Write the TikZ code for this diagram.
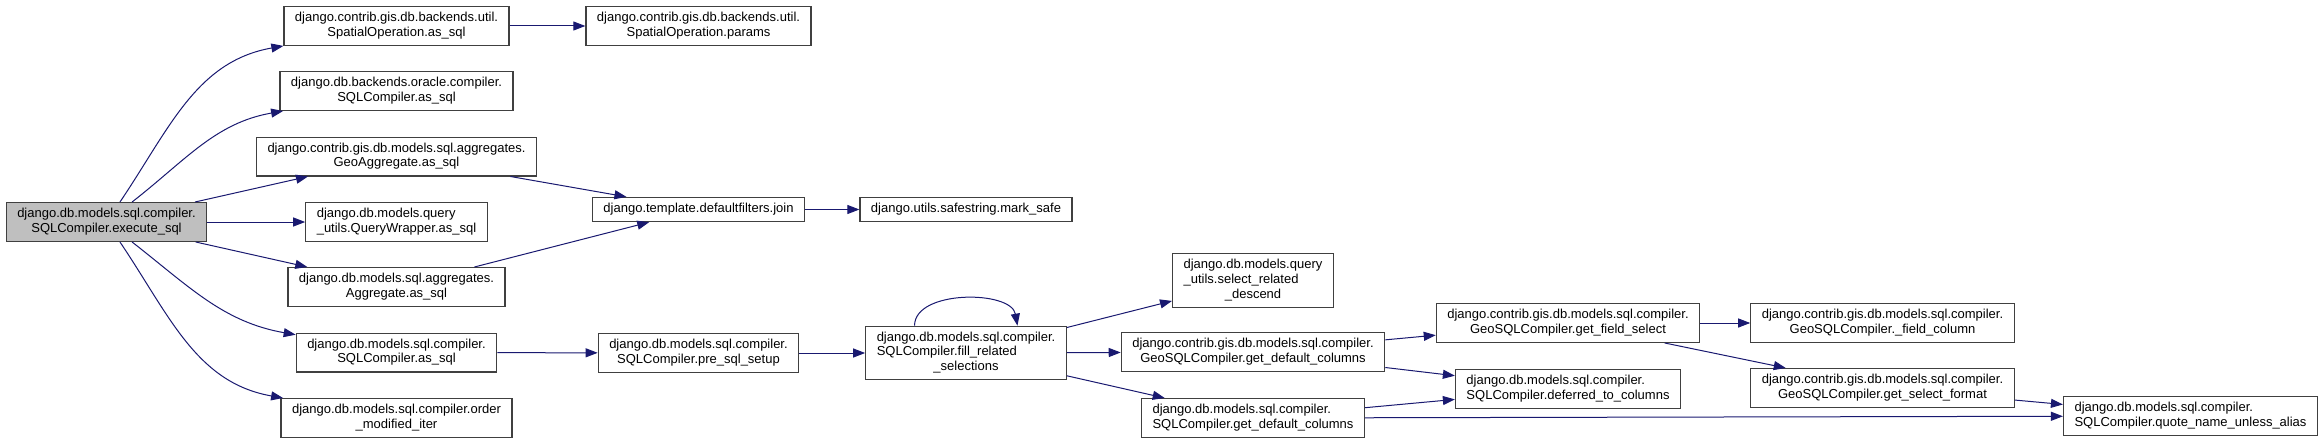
\documentclass[tikz,border=0pt]{standalone}
\usepackage{fontspec}
\setmainfont{Liberation Sans}
\usepackage{tikz}
\usetikzlibrary{arrows.meta}

\definecolor{callblue}{RGB}{25,25,112}
\definecolor{rootgray}{RGB}{191,191,191}
% last line centred, the lines above it flush left
\newcommand{\lbl}[2]{\begin{tabular}{@{}l@{}}#1\\\multicolumn{1}{@{}c@{}}{#2}\end{tabular}}
\newcommand{\oneline}[1]{\begin{tabular}{@{}c@{}}#1\end{tabular}}

\begin{document}
\begin{tikzpicture}[x=1pt, y=-1pt, ->, >={Triangle[length=12pt,width=9pt]}]
    \tikzstyle{every node}=[font=\fontsize{13}{14.7}\selectfont]
    \tikzstyle{fn}=[shape=rectangle, draw=black!75, line width=1.2pt, fill=white, text=black, inner xsep=11pt, inner ysep=4.7pt]
    \tikzstyle{rootfn}=[fn, fill=rootgray]
    \tikzstyle{every edge}=[draw=callblue, line width=1pt]

    \useasboundingbox (0,0) rectangle (2323,444);

    \node[rootfn] (execsql) at (106.5,222) {\lbl{django.db.models.sql.compiler.}{SQLCompiler.execute\_sql}};

        \node[fn] (spatialas) at (396.5,26)    {\lbl{django.contrib.gis.db.backends.util.}{SpatialOperation.as\_sql}};
        \node[fn] (oracleas)  at (396.5,91)    {\lbl{django.db.backends.oracle.compiler.}{SQLCompiler.as\_sql}};
        \node[fn] (geoaggas)  at (396.5,156.5) {\lbl{django.contrib.gis.db.models.sql.aggregates.}{GeoAggregate.as\_sql}};
        \node[fn] (qwrapas)   at (396.5,222)   {\lbl{django.db.models.query}{\_utils.QueryWrapper.as\_sql}};
        \node[fn] (aggas)     at (396.5,287)   {\lbl{django.db.models.sql.aggregates.}{Aggregate.as\_sql}};
        \node[fn] (sqlas)     at (396.5,352.5) {\lbl{django.db.models.sql.compiler.}{SQLCompiler.as\_sql}};
        \node[fn] (ordermod)  at (396.5,418)   {\lbl{django.db.models.sql.compiler.order}{\_modified\_iter}};

            \node[fn] (spatialparams) at (698.5,26)  {\lbl{django.contrib.gis.db.backends.util.}{SpatialOperation.params}};
            \node[fn] (filtjoin) at (698.5,209.5)    {\oneline{django.template.defaultfilters.join}};
            \node[fn] (marksafe) at (966,209.5)      {\oneline{django.utils.safestring.mark\_safe}};
            \node[fn] (presql)   at (698.5,353)      {\lbl{django.db.models.sql.compiler.}{SQLCompiler.pre\_sql\_setup}};
            \node[fn] (fillrel)  at (966,353)        {\lbl{django.db.models.sql.compiler.\\SQLCompiler.fill\_related}{\_selections}};

                \node[fn] (reldescend) at (1253,280.5) {\lbl{django.db.models.query\\\_utils.select\_related}{\_descend}};
                \node[fn] (geogetcols) at (1253,352)   {\lbl{django.contrib.gis.db.models.sql.compiler.}{GeoSQLCompiler.get\_default\_columns}};
                \node[fn] (sqlgetcols) at (1253,418)   {\lbl{django.db.models.sql.compiler.}{SQLCompiler.get\_default\_columns}};

                    \node[fn] (fieldselect) at (1568,323) {\lbl{django.contrib.gis.db.models.sql.compiler.}{GeoSQLCompiler.get\_field\_select}};
                    \node[fn] (deferred)    at (1568,389) {\lbl{django.db.models.sql.compiler.}{SQLCompiler.deferred\_to\_columns}};

                        \node[fn] (fieldcolumn)  at (1882.5,323) {\lbl{django.contrib.gis.db.models.sql.compiler.}{GeoSQLCompiler.\_field\_column}};
                        \node[fn] (selectformat) at (1882.5,388) {\lbl{django.contrib.gis.db.models.sql.compiler.}{GeoSQLCompiler.get\_select\_format}};
                        \node[fn] (quotename)    at (2190.5,416) {\lbl{django.db.models.sql.compiler.}{SQLCompiler.quote\_name\_unless\_alias}};

    \path
    (execsql)   edge[out=56, in=190]   (spatialas)
                edge[out=38, in=190]   (oracleas)
                edge                   (geoaggas)
                edge                   (qwrapas)
                edge                   (aggas)
                edge[out=-38, in=170]  (sqlas)
                edge[out=-56, in=170]  (ordermod)
    (spatialas) edge (spatialparams)
    (geoaggas)  edge (filtjoin)
    (aggas)     edge (filtjoin)
    (filtjoin)  edge (marksafe)
    (sqlas)     edge (presql)
    (presql)    edge (fillrel)
    (fillrel.152) edge[out=90, in=100, looseness=0.9] (fillrel.28)
    (fillrel)   edge (reldescend)
                edge (geogetcols)
                edge (sqlgetcols)
    (geogetcols) edge (fieldselect)
                 edge (deferred)
    (sqlgetcols) edge (deferred)
                 edge (quotename)
    (fieldselect) edge (fieldcolumn)
                  edge (selectformat)
    (selectformat) edge (quotename)
    ;

\end{tikzpicture}
\end{document}
